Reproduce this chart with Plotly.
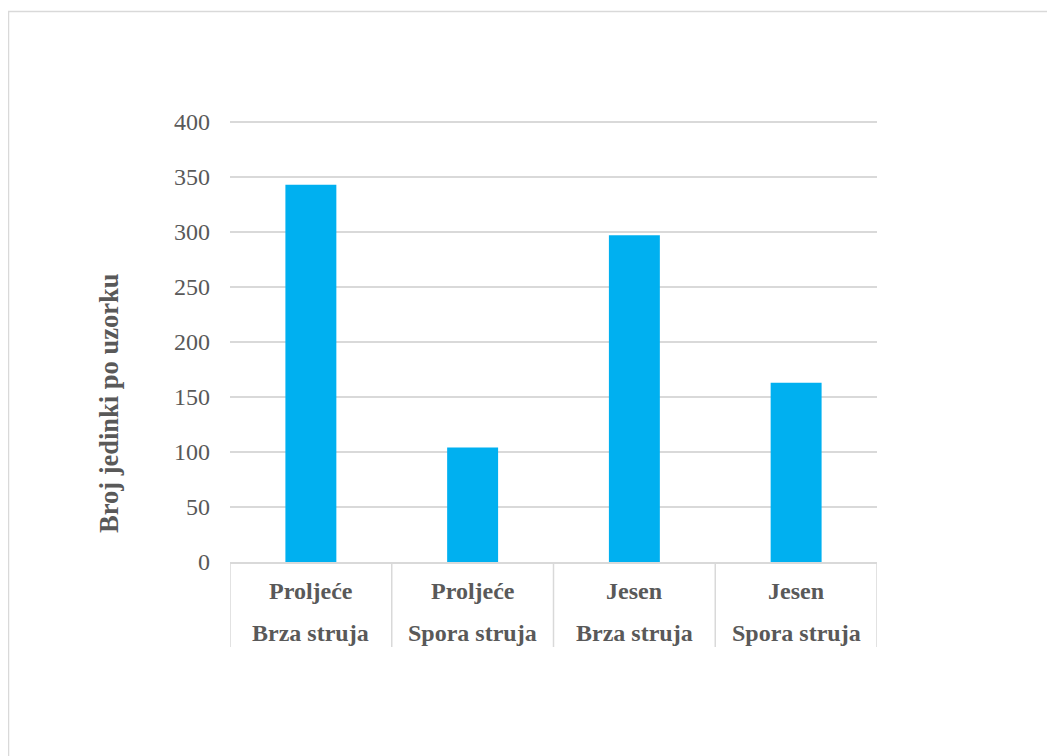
import plotly.graph_objects as go

seasons = ["Proljeće", "Proljeće", "Jesen", "Jesen"]
currents = ["Brza struja", "Spora struja", "Brza struja", "Spora struja"]
values = [343, 104, 297, 163]
y_ticks = [0, 50, 100, 150, 200, 250, 300, 350, 400]
y_title = "Broj jedinki po uzorku"

categories = [f"{s} – {c}" for s, c in zip(seasons, currents)]

# page body has an 8px margin, so the figure is drawn 8px in from the corner
OFF = 8
HEAD = 4  # px of headroom above the 400 gridline so it is drawn
W, H = 1055 - OFF, 756 - OFF
L, R, T, B = 230 - OFF, 178, 122 - HEAD - OFF, 194
plot_w = W - L - R
plot_h = H - T - B
axis_y = T + plot_h  # pixel row of y=0 inside the figure
px_per_unit = 1.1
y_top = 400 + HEAD / px_per_unit

GRAY = "#d9d9d9"
TEXT = "#595959"
FONT = "Liberation Serif, Times New Roman, serif"

fig = go.Figure()
fig.add_trace(go.Bar(
    x=categories,
    y=values,
    marker=dict(color="#00B0F0", line=dict(width=0)),
    hoverinfo="x+y",
))

annotations = []
for cat, s, c in zip(categories, seasons, currents):
    annotations.append(dict(
        x=cat, xref="x", y=0, yref="paper", yanchor="middle", xanchor="center",
        yshift=-29, text=f"<b>{s}</b>", showarrow=False,
        font=dict(family=FONT, size=24, color=TEXT),
    ))
    annotations.append(dict(
        x=cat, xref="x", y=0, yref="paper", yanchor="middle", xanchor="center",
        yshift=-71, text=f"<b>{c}</b>", showarrow=False,
        font=dict(family=FONT, size=24, color=TEXT),
    ))

annotations.append(dict(
    x=0, xref="paper", y=0, yref="paper", xanchor="center", yanchor="middle",
    xshift=-(230 - 109), yshift=562 - 403,
    text=f"<b>{y_title}</b>", textangle=-90, showarrow=False,
    font=dict(family=FONT, size=26.5, color=TEXT),
))

shapes = []
div_bottom = -(647 - 562) / plot_h
for i in range(len(categories) + 1):
    shapes.append(dict(
        type="line", xref="x", yref="paper",
        x0=i - 0.5, x1=i - 0.5, y0=0, y1=div_bottom,
        line=dict(color=GRAY, width=1.5), layer="below",
    ))

# outer chart border (left/top edges visible, right/bottom beyond the view)
shapes.append(dict(
    type="rect", xref="paper", yref="paper",
    x0=(0.5 - L) / plot_w, x1=(W + 30 - L) / plot_w,
    y0=(axis_y - (H + 30)) / plot_h, y1=(axis_y - 3.5) / plot_h,
    line=dict(color=GRAY, width=1.5), fillcolor="rgba(0,0,0,0)", layer="below",
))

fig.update_layout(
    width=W, height=H, autosize=False,
    margin=dict(l=L, r=R, t=T, b=B, pad=0),
    paper_bgcolor="white", plot_bgcolor="white",
    showlegend=False,
    bargap=0.685,
    font=dict(family=FONT, color=TEXT),
    annotations=annotations,
    shapes=shapes,
    xaxis=dict(
        type="category", range=[-0.5, len(categories) - 0.5],
        showticklabels=False, showgrid=False, zeroline=False,
        showline=True, linecolor=GRAY, linewidth=1.5, ticks="",
        fixedrange=True,
    ),
    yaxis=dict(
        range=[0, y_top], tickvals=y_ticks, ticktext=[str(v) for v in y_ticks],
        showgrid=True, gridcolor=GRAY, gridwidth=1.5,
        zeroline=False, showline=False, ticks="",
        tickfont=dict(family=FONT, size=24, color=TEXT),
        ticklabelstandoff=19, fixedrange=True,
    ),
)

fig.write_html("out.html")
